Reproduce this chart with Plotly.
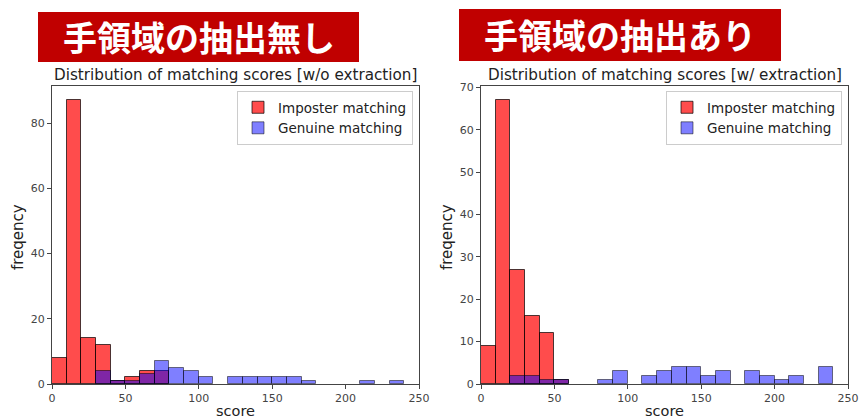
import plotly.graph_objects as go

# ---- data ----
bin_edges = [0, 10, 20, 30, 40, 50, 60, 70, 80, 90, 100, 110, 120, 130, 140, 150,
             160, 170, 180, 190, 200, 210, 220, 230, 240]
imposter_wo = [8, 87, 14, 12, 1, 2, 4, 4, 0, 0, 0, 0, 0, 0, 0, 0, 0, 0, 0, 0, 0, 0, 0, 0]
genuine_wo = [0, 0, 0, 4, 1, 1, 3, 7, 5, 4, 2, 0, 2, 2, 2, 2, 2, 1, 0, 0, 0, 1, 0, 1]
imposter_w = [9, 67, 27, 16, 12, 1, 0, 0, 0, 0, 0, 0, 0, 0, 0, 0, 0, 0, 0, 0, 0, 0, 0, 0]
genuine_w = [0, 0, 2, 2, 1, 1, 0, 0, 1, 3, 0, 2, 3, 4, 4, 2, 3, 0, 3, 2, 1, 2, 0, 4]
x_ticks = [0, 50, 100, 150, 200, 250]
y_ticks_wo = [0, 20, 40, 60, 80]
y_ticks_w = [0, 10, 20, 30, 40, 50, 60, 70]
titles = ["Distribution of matching scores [w/o extraction]",
          "Distribution of matching scores [w/ extraction]"]
banners = ["手領域の抽出無し", "手領域の抽出あり"]

W, H = 859, 419
centers = [(bin_edges[i] + bin_edges[i + 1]) / 2 for i in range(len(bin_edges) - 1)]
widths = [bin_edges[i + 1] - bin_edges[i] for i in range(len(bin_edges) - 1)]

RED = "rgba(255,0,0,0.7)"
RED_EDGE = "rgba(0,0,0,0.7)"
BLUE = "rgba(0,0,255,0.5)"
BLUE_EDGE = "rgba(0,0,0,0.5)"


def nonzero(counts):
    keep = [i for i, c in enumerate(counts) if c > 0]
    return [centers[i] for i in keep], [counts[i] for i in keep], [widths[i] for i in keep]


fig = go.Figure()
panels = [
    (imposter_wo, genuine_wo, "x", "y", "legend"),
    (imposter_w, genuine_w, "x2", "y2", "legend2"),
]
for imp, gen, xa, ya, lg in panels:
    xs, ys, ws = nonzero(imp)
    fig.add_trace(go.Bar(x=xs, y=ys, width=ws, name="Imposter matching",
                         marker=dict(color=RED, line=dict(color=RED_EDGE, width=1)),
                         xaxis=xa, yaxis=ya, legend=lg))
    xs, ys, ws = nonzero(gen)
    fig.add_trace(go.Bar(x=xs, y=ys, width=ws, name="Genuine matching",
                         marker=dict(color=BLUE, line=dict(color=BLUE_EDGE, width=1)),
                         xaxis=xa, yaxis=ya, legend=lg))


def px(v):
    return v / W


def py(v):
    return 1 - v / H


tick_font = dict(family="DejaVu Sans", size=11, color="#444")
axis_common = dict(showline=True, mirror=True, linecolor="#444", linewidth=1,
                   ticks="outside", ticklen=4, tickcolor="#444", showgrid=False,
                   zeroline=False, tickfont=tick_font, automargin=False)

ydom = [py(384), py(86)]
legend_common = dict(yanchor="top", xanchor="right",
                     bgcolor="white", bordercolor="#ccc", borderwidth=1,
                     font=dict(family="DejaVu Sans", size=13.5, color="#222"),
                     tracegroupgap=0, itemwidth=30)
fig.update_layout(
    width=W, height=H, margin=dict(l=0, r=0, t=0, b=0, autoexpand=False),
    paper_bgcolor="white", plot_bgcolor="white",
    barmode="overlay", bargap=0,
    xaxis=dict(domain=[px(52), px(419)], range=[0, 250], tickvals=x_ticks, anchor="y", **axis_common),
    yaxis=dict(domain=ydom, range=[0, max(imposter_wo) * 1.05], tickvals=y_ticks_wo, anchor="x", **axis_common),
    xaxis2=dict(domain=[px(481), px(848)], range=[0, 250], tickvals=x_ticks, anchor="y2", **axis_common),
    yaxis2=dict(domain=ydom, range=[0, max(imposter_w) * 1.05], tickvals=y_ticks_w, anchor="x2", **axis_common),
    legend=dict(x=px(413), y=py(91), **legend_common),
    legend2=dict(x=px(842), y=py(91), **legend_common),
    showlegend=True,
)

annotations = []
shapes = []
# banners
banner_boxes = [(38, 359, 12, 62), (459, 781, 9, 61)]
for text, (x0, x1, y0, y1) in zip(banners, banner_boxes):
    shapes.append(dict(type="rect", xref="paper", yref="paper",
                       x0=px(x0), x1=px(x1), y0=py(y1), y1=py(y0),
                       fillcolor="#C00000", line=dict(width=0), layer="above"))
    annotations.append(dict(text="<b>" + text + "</b>", xref="paper", yref="paper",
                            x=px((x0 + x1) / 2), y=py((y0 + y1) / 2),
                            xanchor="center", yanchor="middle", showarrow=False,
                            font=dict(family="Noto Sans CJK JP", size=34, color="white")))
# subplot titles
for text, xc in zip(titles, [(52 + 419) / 2, (481 + 848) / 2]):
    annotations.append(dict(text=text, xref="paper", yref="paper", x=px(xc), y=py(75),
                            xanchor="center", yanchor="middle", showarrow=False,
                            font=dict(family="DejaVu Sans", size=15.2, color="#222")))
# axis labels
for xc in [(52 + 419) / 2, (481 + 848) / 2]:
    annotations.append(dict(text="score", xref="paper", yref="paper", x=px(xc), y=py(411),
                            xanchor="center", yanchor="middle", showarrow=False,
                            font=dict(family="DejaVu Sans", size=14.5, color="#222")))
for xc in [18, 447]:
    annotations.append(dict(text="freqency", xref="paper", yref="paper", x=px(xc), y=py(237),
                            xanchor="center", yanchor="middle", showarrow=False, textangle=-90,
                            font=dict(family="DejaVu Sans", size=15, color="#222")))
fig.update_layout(annotations=annotations, shapes=shapes)

fig.write_html("out.html")
